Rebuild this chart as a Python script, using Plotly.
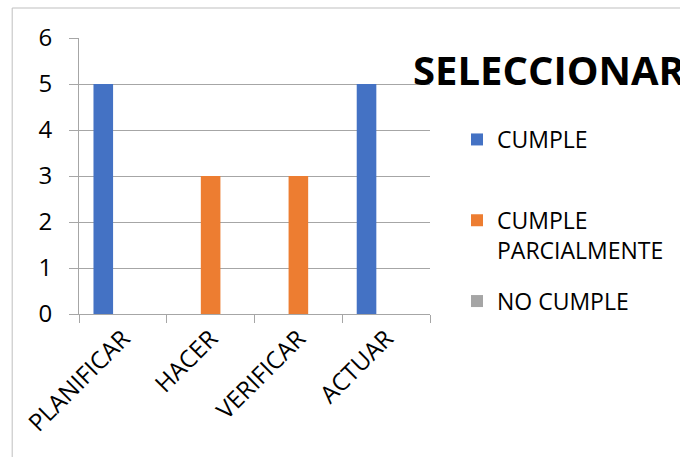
import plotly.graph_objects as go

# Datos del gráfico
categorias = ["PLANIFICAR", "HACER", "VERIFICAR", "ACTUAR"]
cumple = [5, 0, 0, 5]
cumple_parcial = [0, 3, 3, 0]
no_cumple = [0, 0, 0, 0]
y_ticks = [0, 1, 2, 3, 4, 5, 6]

series = [
    ("CUMPLE<br> ", cumple, "#4472C4"),
    ("CUMPLE<br>PARCIALMENTE", cumple_parcial, "#ED7D31"),
    ("NO CUMPLE", no_cumple, "#A5A5A5"),
]

W, H = 680, 457
L, R, T, B = 79, 249, 38, 143
pw, ph = W - L - R, H - T - B

FONT = "Open Sans"
GRID = "#A6A6A6"

fig = go.Figure()
for nombre, valores, color in series:
    fig.add_trace(go.Bar(
        x=categorias, y=valores, name=nombre,
        marker=dict(color=color, line=dict(width=0)),
        legendgroup=nombre,
    ))

def px_x(p):
    return (p - L) / pw

def px_y(p):
    return (H - B - p) / ph

fig.update_layout(
    width=W, height=H,
    margin=dict(l=L, r=R, t=T, b=B),
    paper_bgcolor="white", plot_bgcolor="white",
    barmode="group", bargap=0.33, bargroupgap=0,
    font=dict(family=FONT, size=23, color="#000000"),
    title=dict(
        text="<b>SELECCIONAR</b>",
        font=dict(family=FONT, size=40, color="#000000"),
        xref="container", yref="container",
        x=413 / W, xanchor="left",
        y=1 - 71 / H, yanchor="middle",
    ),
    legend=dict(
        x=px_x(457), xanchor="left",
        y=px_y(118), yanchor="top",
        font=dict(family=FONT, size=23, color="#000000"),
        valign="top",
        tracegroupgap=18,
        bgcolor="rgba(0,0,0,0)",
    ),
    xaxis=dict(
        type="category",
        showline=True, linecolor=GRID, linewidth=1,
        ticks="outside", tickson="boundaries", ticklen=8,
        tickcolor=GRID, tickwidth=1,
        tickangle=-45,
        tickfont=dict(family=FONT, size=24, color="#000000"),
        showgrid=False,
    ),
    yaxis=dict(
        range=[0, 6], tickvals=y_ticks,
        showline=True, linecolor=GRID, linewidth=1,
        ticks="outside", ticklen=9, tickcolor=GRID, tickwidth=1,
        showgrid=True, gridcolor=GRID, gridwidth=1,
        zeroline=False,
        tickfont=dict(family=FONT, size=24, color="#000000"),
        ticklabelstandoff=12,
    ),
    shapes=[
        dict(
            type="rect", xref="paper", yref="paper",
            x0=px_x(12), x1=px_x(W + 20),
            y0=px_y(H + 20), y1=px_y(8),
            line=dict(color="#BFBFBF", width=1),
            fillcolor="rgba(0,0,0,0)", layer="below",
        )
    ],
)

fig.write_html("out.html")
